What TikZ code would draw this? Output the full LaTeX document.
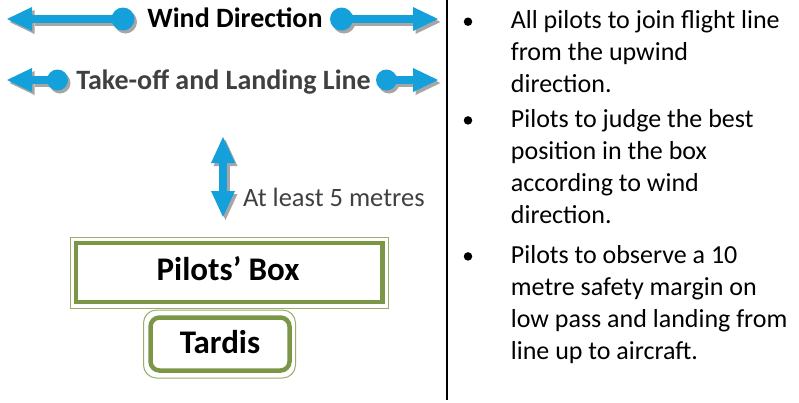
\documentclass[tikz,border=0pt]{standalone}
\usepackage{fontspec}
\setmainfont{Carlito}
\usetikzlibrary{arrows.meta}
\definecolor{arrblue}{RGB}{20,160,218}
\definecolor{shgray}{RGB}{166,166,166}
\definecolor{boxgreen}{RGB}{122,150,70}
\definecolor{thingreen}{RGB}{150,175,105}
\definecolor{txtgray}{RGB}{64,64,64}
\begin{document}
\begin{tikzpicture}[x=1pt,y=1pt,
  arrline/.style={line width=8pt, draw=#1, -{Triangle[width=24pt,length=25pt,line width=0pt]}},
  varr/.style={line width=8pt, draw=#1, {Triangle[width=24pt,length=26pt,line width=0pt]}-{Triangle[width=24pt,length=26pt,line width=0pt]}},
  dotn/.style={circle, fill=#1, inner sep=0pt, minimum size=23pt},
  smalldot/.style={circle, fill=#1, inner sep=0pt, minimum size=21pt},
  big/.style={font=\fontsize{26.5}{32}\selectfont, inner sep=0pt},
  listtxt/.style={font=\fontsize{26}{32}\selectfont, inner sep=0pt},
  bigb/.style={font=\fontsize{28}{32}\selectfont\bfseries, inner sep=0pt},
  boxb/.style={font=\fontsize{33}{36}\selectfont\bfseries, inner sep=0pt},
  bul/.style={circle, fill=black, inner sep=0pt, minimum size=8.5pt},
  outerbox/.style={draw=thingreen, line width=1pt},
  innerbox/.style={draw=boxgreen, line width=4.5pt},
]
\useasboundingbox (0,0) rectangle (799,-402);

% arrow geometry
\coordinate (wlt) at (7,-19);
\coordinate (wlc) at (123,-19);
\coordinate (wrc) at (341.5,-19);
\coordinate (wrt) at (438,-19);
\coordinate (tlt) at (7,-80);
\coordinate (tlc) at (57.5,-80);
\coordinate (trc) at (386.5,-80);
\coordinate (trt) at (438,-80);
\coordinate (vt) at (223,-137);
\coordinate (vb) at (223,-217);

% shadows
\begin{scope}[transform canvas={shift={(2.5pt,-3pt)}}]
  \draw[arrline=shgray] (wlc) -- (wlt);
  \draw[arrline=shgray] (wrc) -- (wrt);
  \draw[arrline=shgray] (tlc) -- (tlt);
  \draw[arrline=shgray] (trc) -- (trt);
  \node[dotn=shgray] (swl) at (wlc) {};
  \node[dotn=shgray] (swr) at (wrc) {};
  \node[smalldot=shgray] (stl) at (tlc) {};
  \node[smalldot=shgray] (str) at (trc) {};
  \draw[varr=shgray] (vt) -- (vb);
\end{scope}

% blue arrows
\draw[arrline=arrblue] (wlc) -- (wlt);
\draw[arrline=arrblue] (wrc) -- (wrt);
\draw[arrline=arrblue] (tlc) -- (tlt);
\draw[arrline=arrblue] (trc) -- (trt);
\node[dotn=arrblue] (bwl) at (wlc) {};
\node[dotn=arrblue] (bwr) at (wrc) {};
\node[smalldot=arrblue] (btl) at (tlc) {};
\node[smalldot=arrblue] (btr) at (trc) {};
\draw[varr=arrblue] (vt) -- (vb);

% labels
\node[bigb, anchor=base] (wind) at (235,-27.3) {Wind Direction};
\node[bigb, anchor=base, text=txtgray] (tol) at (223.5,-89.3) {Take-off and Landing Line};
\node[big, anchor=base west, text=txtgray] (atl) at (243,-206) {At least 5 metres};

% boxes
\draw[outerbox] (70,-237) rectangle (388,-308.5);
\draw[innerbox] (76,-243) rectangle (382.5,-302);
\node[boxb, anchor=base] (pb) at (228,-280.7) {Pilots’ Box};
\draw[outerbox, rounded corners=13pt] (143.5,-310) rectangle (295.5,-378);
\draw[innerbox, rounded corners=9pt] (150.5,-317.5) rectangle (289.5,-370.5);
\node[boxb, anchor=base] (tar) at (220,-353) {Tardis};

% separator
\coordinate (st) at (447,0);
\coordinate (sb) at (447,-400);
\draw[line width=2pt] (st) -- (sb);

% bullet list (anchored at the baseline of the last line)
\node[listtxt, anchor=base west, align=left] (i1) at (510.7,-92.3) {All pilots to join flight line\\from the upwind\\direction.};
\node[listtxt, anchor=base west, align=left] (i2) at (510.7,-223) {Pilots to judge the best\\position in the box\\according to wind\\direction.};
\node[listtxt, anchor=base west, align=left] (i3) at (510.7,-359) {Pilots to observe a 10\\metre safety margin on\\low pass and landing from\\line up to aircraft.};
\node[bul] (b1) at (468,-21.7) {};
\node[bul] (b2) at (468,-120.4) {};
\node[bul] (b3) at (468,-256.4) {};
\end{tikzpicture}
\end{document}
